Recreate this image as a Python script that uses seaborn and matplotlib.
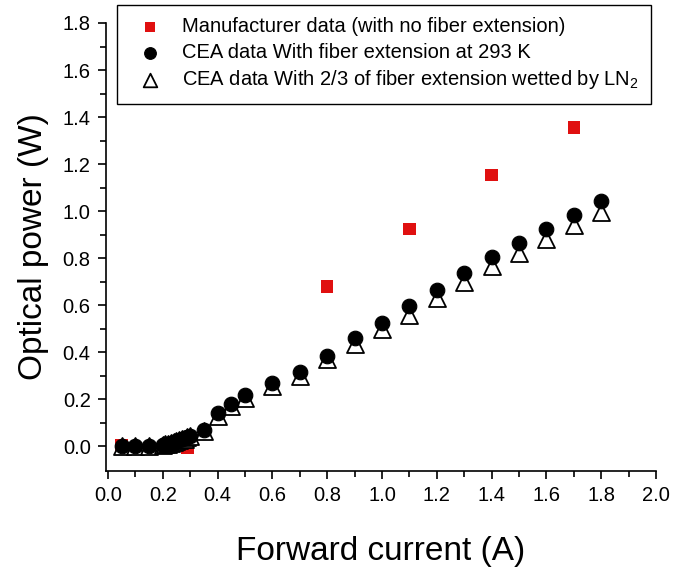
import numpy as np
import pandas as pd
import matplotlib
matplotlib.use("Agg")
import matplotlib.pyplot as plt
import seaborn as sns

# --- data ---
manu_x = [0.05, 0.29, 0.8, 1.1, 1.4, 1.7]
manu_y = [0.005, -0.005, 0.68, 0.923, 1.153, 1.355]

cea_x = [0.05, 0.1, 0.15, 0.2, 0.21, 0.22, 0.23, 0.24, 0.25, 0.26, 0.27, 0.28, 0.29, 0.3,
         0.35, 0.4, 0.45, 0.5, 0.6, 0.7, 0.8, 0.9, 1.0, 1.1, 1.2, 1.3, 1.4, 1.5, 1.6, 1.7, 1.8]
cea293_y = [0.0, 0.0, 0.0, 0.005, 0.008, 0.01, 0.014, 0.018, 0.022, 0.026, 0.03, 0.035, 0.04, 0.045,
            0.07, 0.14, 0.18, 0.217, 0.27, 0.317, 0.385, 0.46, 0.523, 0.596, 0.663, 0.736, 0.804,
            0.864, 0.923, 0.983, 1.043]
ceaLN2_y = [0.0, 0.0, 0.0, 0.005, 0.008, 0.01, 0.013, 0.017, 0.021, 0.025, 0.029, 0.033, 0.038, 0.042,
            0.065, 0.13, 0.17, 0.205, 0.255, 0.3, 0.37, 0.435, 0.497, 0.56, 0.63, 0.7, 0.766,
            0.82, 0.882, 0.94, 0.995]

lab_manu = "Manufacturer data (with no fiber extension)"
lab_293 = "CEA data With fiber extension at 293 K"
lab_ln2 = r"CEA data With 2/3 of fiber extension wetted by LN$_2$"

sns.set_style("ticks")
plt.rcParams['font.family'] = ['Liberation Sans', 'DejaVu Sans']
plt.rcParams['mathtext.fontset'] = 'custom'
plt.rcParams['mathtext.rm'] = 'Liberation Sans'
plt.rcParams['mathtext.it'] = 'Liberation Sans'
plt.rcParams['text.color'] = 'black'
plt.rcParams['axes.labelcolor'] = 'black'

fig = plt.figure(figsize=(6.75, 5.67), dpi=100)
ax = fig.add_axes([106/675, 1 - 471/567, (656-106)/675, (471-23)/567])

sns.scatterplot(x=manu_x, y=manu_y, ax=ax, marker='s', s=80, color='#e01010',
                edgecolor='none', label=lab_manu, zorder=2)
sns.scatterplot(x=cea_x, y=ceaLN2_y, ax=ax, marker='^', s=150, facecolor='white',
                edgecolor='black', linewidth=1.3, label=lab_ln2, zorder=3)
sns.scatterplot(x=cea_x, y=cea293_y, ax=ax, marker='o', s=110, color='black',
                edgecolor='black', label=lab_293, zorder=4)

ax.set_xlim(-0.007, 2.0)
ax.set_ylim(-0.105, 1.8)
ax.set_xticks(np.arange(0, 2.01, 0.2))
ax.set_yticks(np.arange(0, 1.81, 0.2))
ax.set_xticks(np.arange(0.1, 2.0, 0.2), minor=True)
ax.set_yticks(np.arange(0.1, 1.8, 0.2), minor=True)
ax.xaxis.set_major_formatter(matplotlib.ticker.FormatStrFormatter('%.1f'))
ax.yaxis.set_major_formatter(matplotlib.ticker.FormatStrFormatter('%.1f'))
ax.tick_params(axis='both', which='major', direction='out', length=6, width=1.2,
               labelsize=14.5, color='black', labelcolor='black', pad=5)
ax.tick_params(axis='both', which='minor', direction='out', length=4, width=1.2, color='black')
for sp in ['top', 'right']:
    ax.spines[sp].set_visible(False)
for sp in ['left', 'bottom']:
    ax.spines[sp].set_color('black')
    ax.spines[sp].set_linewidth(1.2)

ax.set_xlabel("Forward current (A)", fontsize=24, labelpad=22, color='black')
ax.set_ylabel("Optical power (W)", fontsize=24, labelpad=10, color='black')

h, l = ax.get_legend_handles_labels()
order = [l.index(lab_manu), l.index(lab_293), l.index(lab_ln2)]
leg = ax.legend([h[i] for i in order], [l[i] for i in order], loc='upper left',
                bbox_to_anchor=(117/675, 1 - 5/567), bbox_transform=fig.transFigure,
                borderaxespad=0, fontsize=14.5, frameon=True, fancybox=False, framealpha=1,
                edgecolor='black', borderpad=0.62, labelspacing=0.32, handletextpad=0.6,
                markerscale=0.8, labelcolor='black')
leg.get_frame().set_linewidth(1.0)

fig.savefig("out.png", dpi=100)
